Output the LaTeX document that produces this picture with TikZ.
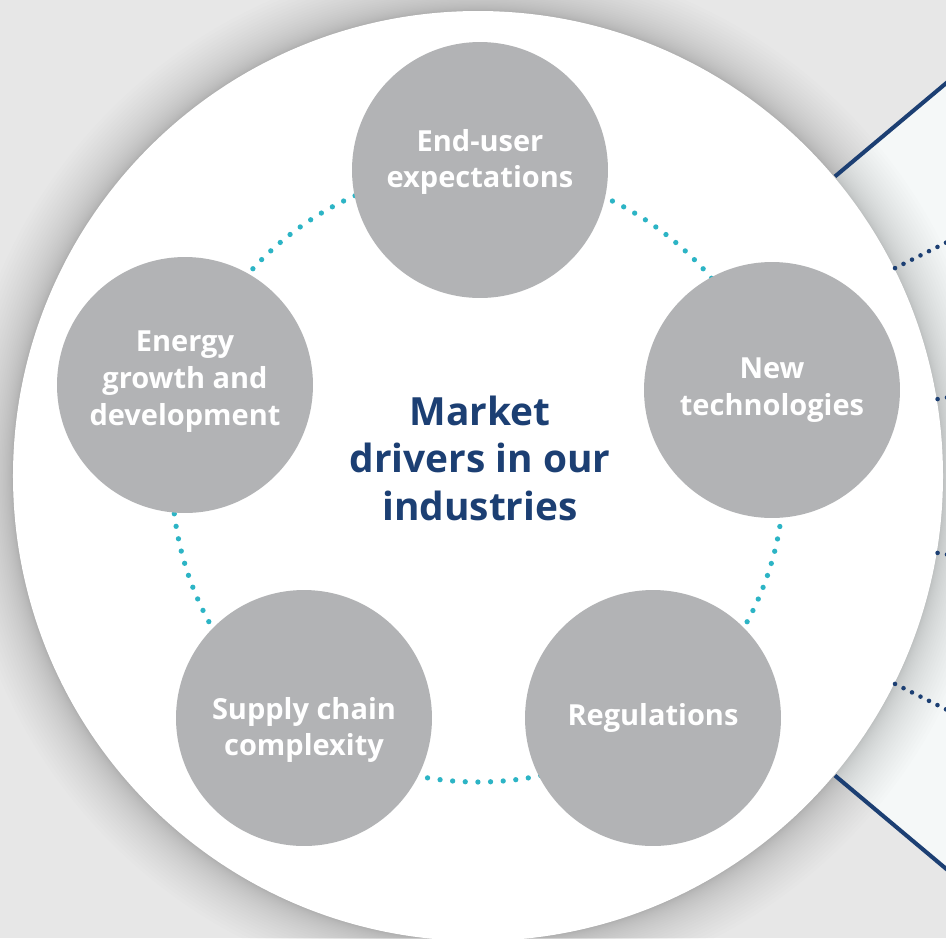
\documentclass[tikz,border=0pt]{standalone}
\usepackage{fontspec}
\setmainfont{Open Sans}
\usepackage{xcolor}
\usepackage{tikz}
\usetikzlibrary{positioning}
\definecolor{mdback}{RGB}{231,231,231}
\definecolor{mdpanel}{RGB}{245,248,248}
\definecolor{mdgrey}{RGB}{178,179,181}
\definecolor{mdteal}{RGB}{44,180,197}
\definecolor{mdnavy}{RGB}{28,63,115}

\begin{document}
\begin{tikzpicture}[x=0.02cm, y=0.02cm,
  driver/.style={circle, fill=mdgrey, minimum size=5.12cm, inner sep=0pt},
  dtext/.style={align=center, text=white, inner sep=0pt,
                font=\fontsize{16.5}{21}\selectfont\bfseries},
  hub/.style={align=center, text=mdnavy, font=\fontsize{22.1}{27}\selectfont\bfseries},
  ring/.style={mdteal, line width=3pt, line cap=round, dash pattern=on 0pt off 7.2pt},
  spoke/.style={mdnavy, line width=2.3pt},
  feeler/.style={mdnavy, line width=2.6pt, line cap=round, dash pattern=on 0pt off 5.4pt},
]
\useasboundingbox (-478,-462) rectangle (468,476);
\clip (-478,-462) rectangle (468,476);
\fill[mdback] (-478,-462) rectangle (468,476);

% light panel fanning out to the right
\fill[mdpanel] (0,0) -- (40:900) -- (-40:900) -- cycle;

% soft shadow round the disc, densest at the rim
\foreach \r in {1,...,30}
  \fill[black, opacity=0.0095] (0,0) circle (465+0.06*\r*\r);
\fill[white] (0,0) circle (465);

% spokes leaving the disc
\coordinate (c) at (0,0);
\path (40:466) coordinate (sa) (40:700) coordinate (sb)
      (-40:466) coordinate (sc) (-40:700) coordinate (sd);
\draw[spoke] (sa) -- (sb);
\draw[spoke] (sc) -- (sd);
\foreach \a in {26.5,9.5,-9.5,-26.5}
  \draw[feeler] (\a:466) -- (\a:600);

% dotted ring behind the drivers
\draw[ring] (c) circle (306);

\node[driver] (user) at (2,306) {};
\node[driver] (tech) at (294,86) {};
\node[driver] (regs) at (175,-242) {};
\node[driver] (supp) at (-174,-242) {};
\node[driver] (enrg) at (-293,91) {};

\node[dtext, yshift=0.16cm] (userT) at (user) {End-user\\expectations};
\node[dtext] (techT) at (tech) {New\\technologies};
\node[dtext] (regsT) at (regs) {Regulations};
\node[dtext, yshift=-0.24cm] (suppT) at (supp) {Supply chain\\complexity};
\node[dtext, yshift=0.06cm] (enrgT) at (enrg) {Energy\\growth and\\development};

\node[hub] (mkt) at (2,18) {Market\\drivers in our\\industries};
\end{tikzpicture}
\end{document}
